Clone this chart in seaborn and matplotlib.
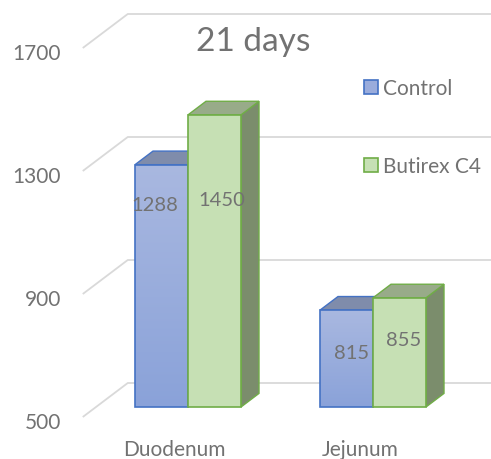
import numpy as np
import pandas as pd
import matplotlib
matplotlib.use('Agg')
import matplotlib.pyplot as plt
import matplotlib.transforms as mtransforms
from matplotlib.patches import Polygon, Patch
from matplotlib.colors import LinearSegmentedColormap
import seaborn as sns

# data
segments = ['Duodenum', 'Jejunum']
groups = ['Control', 'Butirex C4']
control = [1288, 815]
butirex = [1450, 855]
y_ticks = [500, 900, 1300, 1700]
title = '21 days'

df = pd.DataFrame({
    'segment': segments * 2,
    'group': [groups[0]] * 2 + [groups[1]] * 2,
    'value': control + butirex,
})

sns.set_theme(style='white')
plt.rcParams['font.family'] = ['Lato', 'DejaVu Sans']

GREY = '#727272'
GRID = '#d9d9d9'
front_col = {'Control': '#9aacdc', 'Butirex C4': '#c6e0b4'}
edge_col = {'Control': '#4472c4', 'Butirex C4': '#70ad47'}
top_col = {'Control': '#7f8cab', 'Butirex C4': '#98ab89'}
side_col = {'Control': '#6f7d9c', 'Butirex C4': '#7b8d6c'}
blue_grad = LinearSegmentedColormap.from_list('blue_grad', ['#8aa2d9', '#a9b8e0'])

# layout in pixels (figure is 491x460 at 100 dpi)
W, H = 491, 460
left_px, right_px, floor_px, top_px = 96, 460, 408, 39
depth = np.array([45.0, 34.0])          # full depth of the 3d box, in px
front_off = -0.294 * depth               # front plane (labels, grid start)
back_off = 0.706 * depth                 # back wall
bar_off = 0.40 * depth                   # bar thickness

fig = plt.figure(figsize=(W / 100, H / 100), dpi=100)
ax = fig.add_axes([left_px / W, 1 - floor_px / H,
                   (right_px - left_px) / W, (floor_px - top_px) / H])

sns.barplot(data=df, x='segment', y='value', hue='group', order=segments,
            hue_order=groups, palette=front_col, saturation=1, width=0.573,
            gap=0, legend=False, ax=ax)

xlim = ((left_px - 188) / 185, (right_px - 188) / 185)
ylim = (y_ticks[0], y_ticks[-1])
sx = (xlim[1] - xlim[0]) / (right_px - left_px)   # data units per px
sy = (ylim[1] - ylim[0]) / (floor_px - top_px)

def px(v):
    return v[0] * sx, v[1] * sy

fdx, fdy = px(front_off)
bdx, bdy = px(back_off)
ddx, ddy = px(bar_off)

# perspective gridlines: front corner -> back wall -> right edge
for v in y_ticks:
    xs = [xlim[0] + fdx, xlim[0] + bdx, xlim[1] + bdx]
    ys = [v + fdy, v + bdy, v + bdy]
    ax.plot(xs, ys, color=GRID, lw=1.3, zorder=0.5, clip_on=False,
            solid_capstyle='butt')

# label nudges in px (dx, drop below bar top)
label_dx = {'Control': [-7, 5], 'Butirex C4': [7, 4]}
label_drop = {'Control': [40, 42], 'Butirex C4': [85, 42]}

floor = ylim[0]
for g, cont in zip(groups, ax.containers):
    for j, bar in enumerate(cont):
        top = bar.get_y() + bar.get_height()
        bar.set_y(floor)
        bar.set_height(top - floor)
        bar.set_edgecolor(edge_col[g])
        bar.set_linewidth(1.2)
        bar.set_zorder(3)
        bar.set_clip_on(False)
        x0 = bar.get_x()
        x1 = x0 + bar.get_width()
        topface = Polygon([(x0, top), (x1, top), (x1 + ddx, top + ddy), (x0 + ddx, top + ddy)],
                          closed=True, facecolor=top_col[g], edgecolor=edge_col[g],
                          lw=1.0, zorder=2, clip_on=False)
        side = Polygon([(x1, floor), (x1 + ddx, floor + ddy), (x1 + ddx, top + ddy), (x1, top)],
                       closed=True, facecolor=side_col[g], edgecolor=edge_col[g],
                       lw=1.0, zorder=2, clip_on=False)
        ax.add_patch(side)
        ax.add_patch(topface)
        if g == 'Control':
            grad = np.linspace(0, 1, 256).reshape(-1, 1)
            im = ax.imshow(grad, extent=(x0, x1, floor, top), origin='lower',
                           cmap=blue_grad, aspect='auto', zorder=2.9)
            im.set_clip_path(bar)
            bar.set_facecolor('none')
        cx = (x0 + x1) / 2 + label_dx[g][j] * sx
        ax.text(cx, top - label_drop[g][j] * sy, f'{top:.0f}', ha='center',
                va='center', fontsize=14.5, color=GREY, zorder=5)

ax.set_xlim(xlim)
ax.set_ylim(ylim)
ax.set_yticks(y_ticks)
ax.set_yticklabels([str(v) for v in y_ticks])
ax.set_xlabel('')
ax.set_ylabel('')
ax.tick_params(axis='y', length=0, pad=15.8, labelsize=15, labelcolor=GREY)
ax.tick_params(axis='x', length=0, pad=16, labelsize=15, labelcolor=GREY)
for s in ax.spines.values():
    s.set_visible(False)
ax.patch.set_visible(False)
ax.grid(False)

# push the tick labels onto the front plane
xshift = mtransforms.ScaledTranslation(front_off[0] / 100, front_off[1] / 100,
                                       fig.dpi_scale_trans)
yshift = mtransforms.ScaledTranslation(front_off[0] / 100, (front_off[1] - 3) / 100,
                                       fig.dpi_scale_trans)
for lab in ax.get_yticklabels():
    lab.set_transform(lab.get_transform() + yshift)
for lab in ax.get_xticklabels():
    lab.set_transform(lab.get_transform() + xshift)

fig.suptitle(title, x=253 / W, y=1 - 42 / H, va='center', fontsize=24, color=GREY)

handles = [Patch(facecolor=front_col[g], edgecolor=edge_col[g], lw=1.2) for g in groups]
fig.legend(handles, groups, loc='upper left', bbox_to_anchor=(364 / W, 1 - 79 / H),
           frameon=False, fontsize=15, labelcolor=GREY, handlelength=0.67,
           handleheight=0.67, handletextpad=0.25, labelspacing=2.8,
           borderpad=0, borderaxespad=0)

fig.savefig('out.png', dpi=100)
